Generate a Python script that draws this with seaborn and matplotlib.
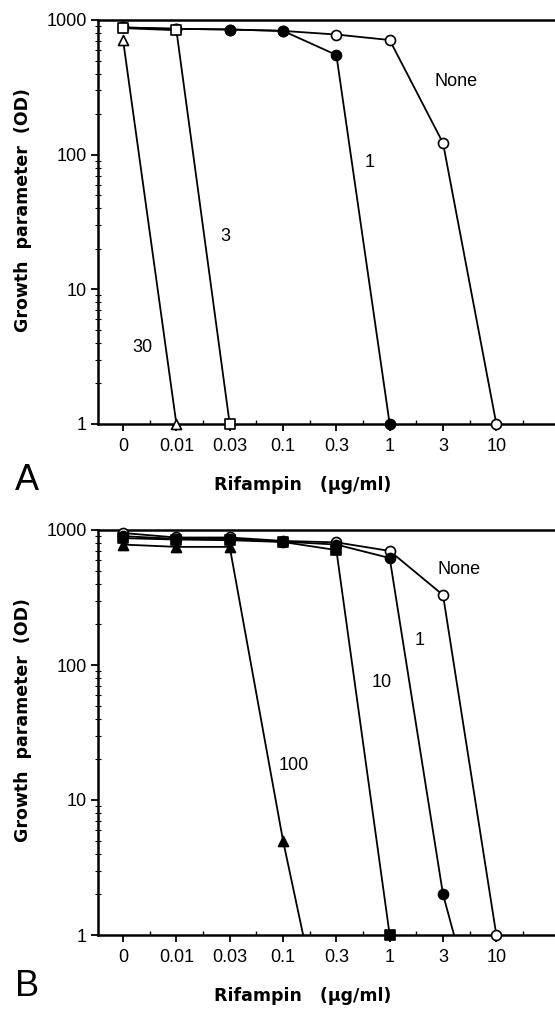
import numpy as np
import pandas as pd
import seaborn as sns
import matplotlib.pyplot as plt
from matplotlib.ticker import LogLocator, NullFormatter

# Rifampin concentrations (ug/ml), plotted as evenly spaced categories
conc_labels = ['0', '0.01', '0.03', '0.1', '0.3', '1', '3', '10']

# Panel A: growth (OD) per rifampin level, one series per second-drug level
a_none = [880, 860, 850, 830, 780, 710, 122, 1]
a_1 = [880, 860, 850, 830, 550, 1]
a_3 = [870, 840, 1]
a_30 = [710, 1]

# Panel B
b_none = [950, 880, 880, 830, 810, 700, 330, 1]
b_1 = [900, 860, 860, 820, 780, 620, 2, 0.07]
b_10 = [870, 850, 840, 815, 710, 1]
b_100 = [780, 750, 750, 5, 0.07]

y_ticks = [1, 10, 100, 1000]

sns.set_theme(style="ticks")
plt.rcParams['font.family'] = ['Liberation Sans', 'DejaVu Sans']
for key in ['axes.edgecolor', 'xtick.color', 'ytick.color', 'text.color',
            'axes.labelcolor', 'xtick.labelcolor', 'ytick.labelcolor']:
    plt.rcParams[key] = 'black'

fig = plt.figure(figsize=(5.55, 10.1), dpi=100)
W, H = 555, 1010


def draw_panel(ax, series, notes):
    ax.set_yscale('log')
    for vals, marker, face in series:
        d = pd.DataFrame({'x': np.arange(len(vals)), 'y': vals})
        sns.lineplot(data=d, x='x', y='y', ax=ax, color='black', lw=1.3, zorder=2)
        inside = d[d['y'] >= 1]
        sns.scatterplot(data=inside, x='x', y='y', ax=ax, marker=marker, s=52,
                        color=face, edgecolor='black', linewidth=1.2,
                        zorder=3, clip_on=False)
    ax.set_xlim(-0.47, 8.1)
    ax.set_ylim(1, 1000)
    ax.set_xticks(range(len(conc_labels)))
    ax.set_xticklabels(conc_labels)
    ax.set_xticks(np.arange(0.5, 8.0, 1), minor=True)
    ax.set_yticks(y_ticks)
    ax.set_yticklabels([str(v) for v in y_ticks])
    ax.yaxis.set_minor_locator(LogLocator(base=10, subs=np.arange(2, 10)))
    ax.yaxis.set_minor_formatter(NullFormatter())
    ax.tick_params(axis='both', which='major', direction='out', length=5,
                   width=1.3, labelsize=13)
    ax.tick_params(axis='x', which='major', pad=5)
    ax.tick_params(axis='y', which='major', pad=3)
    ax.tick_params(axis='y', which='minor', direction='inout', length=4, width=0.8)
    ax.tick_params(axis='x', which='minor', direction='in', length=3, width=1)
    ax.spines['right'].set_visible(False)
    for s in ['left', 'bottom', 'top']:
        ax.spines[s].set_linewidth(1.8)
    ax.set_xlabel('Rifampin   (µg/ml)', fontsize=12.5, fontweight='bold',
                  family='DejaVu Sans')
    ax.set_ylabel('Growth  parameter  (OD)', fontsize=12.5, fontweight='bold',
                  family='DejaVu Sans')
    ax.xaxis.set_label_coords((303 - 98) / 457, -0.128)
    ax.yaxis.set_label_coords(-0.145, 0.53)
    ax.grid(False)
    for txt, x, y in notes:
        ax.text(x, y, txt, fontsize=13, ha='center', va='center')


# panel A
axA = fig.add_axes([98 / W, 1 - 424 / H, 457 / W, 404 / H])
draw_panel(axA,
           [(a_none, 'o', 'white'), (a_1, 'o', 'black'),
            (a_3, 's', 'white'), (a_30, '^', 'white')],
           [('None', 6.25, 350), ('1', 4.63, 87), ('3', 1.91, 24.5), ('30', 0.36, 3.7)])

# panel B
axB = fig.add_axes([98 / W, 1 - 935 / H, 457 / W, 405 / H])
draw_panel(axB,
           [(b_none, 'o', 'white'), (b_1, 'o', 'black'),
            (b_10, 's', 'black'), (b_100, '^', 'black')],
           [('None', 6.3, 514), ('1', 5.56, 153), ('10', 4.85, 74), ('100', 3.2, 18)])

fig.text(27 / W, 1 - 481 / H, 'A', fontsize=26, ha='center', va='center')
fig.text(27 / W, 1 - 987 / H, 'B', fontsize=26, ha='center', va='center')

plt.savefig('out.png', dpi=100)
